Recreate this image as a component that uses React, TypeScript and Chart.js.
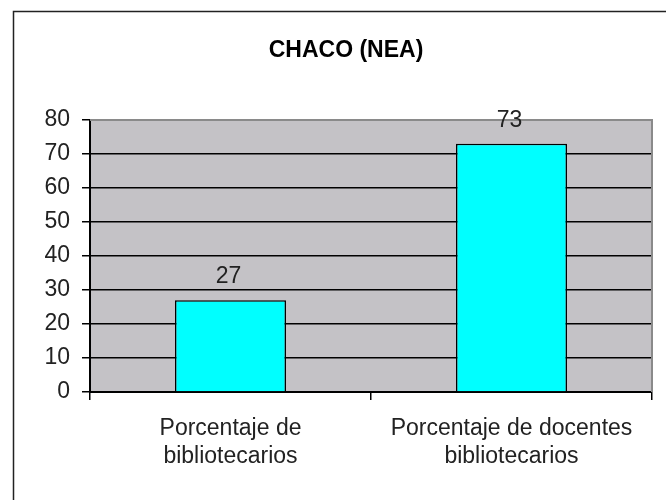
import React, { useEffect, useRef } from "react";
import { Chart, registerables } from "chart.js";

Chart.register(...registerables);

const categories: string[][] = [
  ["Porcentaje de", "bibliotecarios"],
  ["Porcentaje de docentes", "bibliotecarios"],
];
const values: number[] = [27, 73];
const titleText = "CHACO (NEA)";
const yMin = 0;
const yMax = 80;
const yStep = 10;

const FONT = "'Liberation Sans', Arial, sans-serif";

const decorPlugin = {
  id: "decor",
  beforeDraw(chart: any) {
    const { ctx, chartArea, width, height } = chart;
    ctx.save();
    ctx.fillStyle = "#ffffff";
    ctx.fillRect(0, 0, width, height);
    // outer frame (left and top visible)
    ctx.strokeStyle = "#222222";
    ctx.lineWidth = 1.5;
    ctx.beginPath();
    ctx.moveTo(13.5, height);
    ctx.lineTo(13.5, 11.5);
    ctx.lineTo(width, 11.5);
    ctx.stroke();
    // plot background
    ctx.fillStyle = "#c4c2c6";
    ctx.fillRect(chartArea.left, chartArea.top, chartArea.right - chartArea.left, chartArea.bottom - chartArea.top);
    // title
    ctx.fillStyle = "#000000";
    ctx.font = `bold 23px ${FONT}`;
    ctx.textAlign = "center";
    ctx.textBaseline = "middle";
    ctx.fillText(titleText, 346, 51);
    ctx.restore();
  },
  beforeDatasetsDraw(chart: any) {
    const { ctx, chartArea } = chart;
    ctx.save();
    ctx.strokeStyle = "#8a8a8a";
    ctx.lineWidth = 2;
    ctx.beginPath();
    ctx.moveTo(chartArea.left, chartArea.top);
    ctx.lineTo(chartArea.right, chartArea.top);
    ctx.lineTo(chartArea.right, chartArea.bottom);
    ctx.stroke();
    ctx.restore();
  },
  afterDatasetsDraw(chart: any) {
    const { ctx } = chart;
    const meta = chart.getDatasetMeta(0);
    ctx.save();
    ctx.fillStyle = "#222222";
    ctx.font = `23px ${FONT}`;
    ctx.textAlign = "center";
    ctx.textBaseline = "alphabetic";
    meta.data.forEach((bar: any, i: number) => {
      ctx.fillText(String(values[i]), bar.x - 2, bar.y - 17);
    });
    ctx.restore();
  },
};

export default function App() {
  const ref = useRef<HTMLCanvasElement | null>(null);
  useEffect(() => {
    if (!ref.current) return;
    const chart = new Chart(ref.current, {
      type: "bar",
      data: {
        labels: categories,
        datasets: [
          {
            data: values,
            backgroundColor: "#00ffff",
            borderColor: "#000000",
            borderWidth: 1.5,
            categoryPercentage: 1,
            barPercentage: 0.395,
          },
        ],
      },
      options: {
        animation: false,
        responsive: false,
        devicePixelRatio: 1,
        layout: { padding: { top: 120, right: 14, left: 0, bottom: 0 } },
        plugins: {
          legend: { display: false },
          title: { display: false },
          tooltip: { enabled: false },
        },
        scales: {
          x: {
            grid: {
              offset: true,
              drawOnChartArea: false,
              drawTicks: true,
              tickLength: 8,
              color: "#000000",
              lineWidth: 1.5,
            },
            border: { color: "#000000", width: 2 },
            ticks: {
              color: "#222222",
              font: { family: FONT, size: 23, lineHeight: 1.25 },
              padding: 14,
              maxRotation: 0,
              autoSkip: false,
            },
            afterFit: (s: any) => {
              s.height = 108;
            },
          },
          y: {
            min: yMin,
            max: yMax,
            grid: {
              color: (c: any) => (c.tick && c.tick.value === yMax ? "rgba(0,0,0,0)" : "#000000"),
              tickColor: "#000000",
              lineWidth: 1.5,
              tickLength: 8,
            },
            border: { color: "#000000", width: 2 },
            ticks: {
              stepSize: yStep,
              color: "#222222",
              font: { family: FONT, size: 23 },
              padding: 12,
            },
            afterFit: (s: any) => {
              s.width = 90;
            },
          },
        },
      },
      plugins: [decorPlugin],
    });
    return () => chart.destroy();
  }, []);
  return (
    <div style={{ position: "fixed", left: 0, top: 0, width: 666, height: 500, background: "#fff" }}>
      <canvas ref={ref} width={666} height={500} style={{ display: "block" }} />
    </div>
  );
}
